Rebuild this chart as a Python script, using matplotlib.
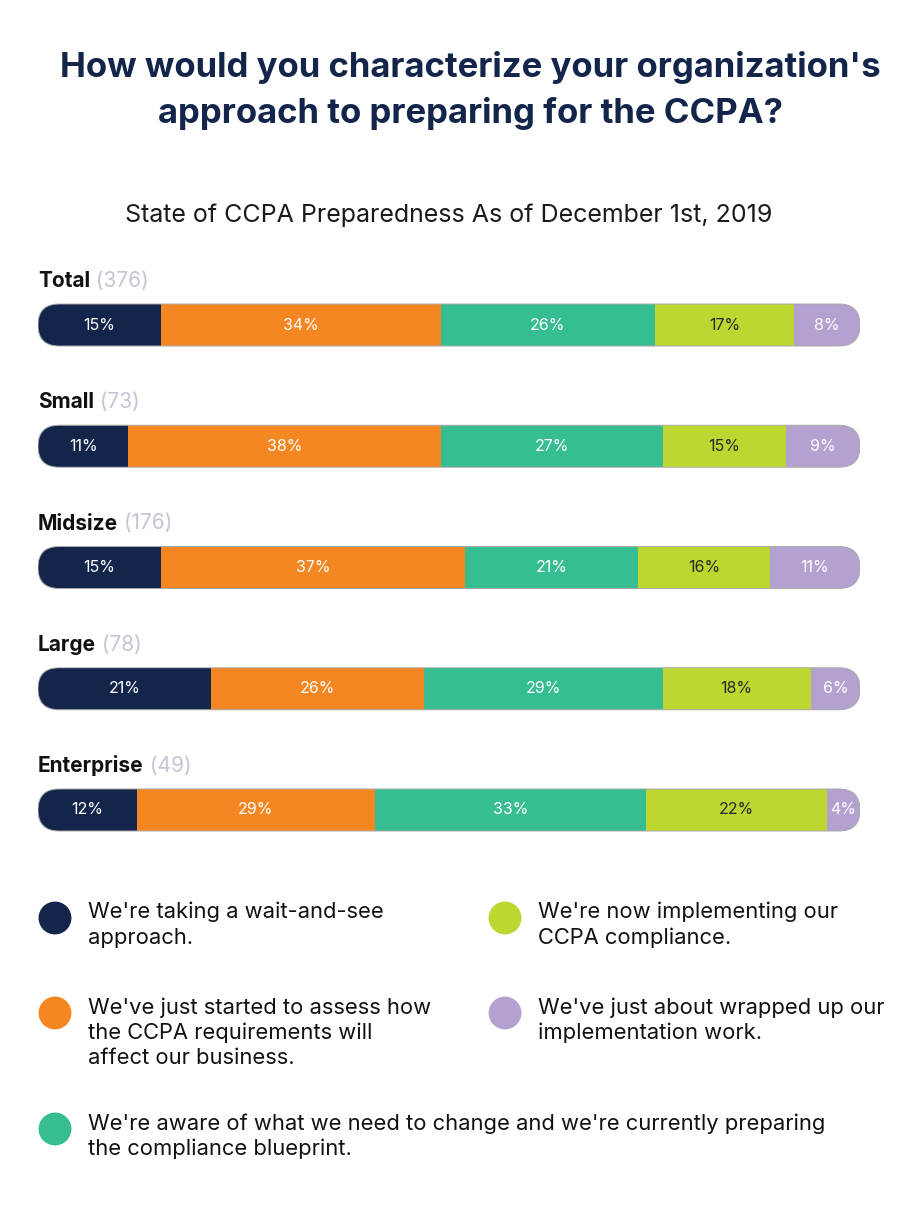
import matplotlib.pyplot as plt
from matplotlib.patches import FancyBboxPatch
import numpy as np

plt.rcParams['font.family'] = ['Inter', 'DejaVu Sans']

# data
groups = ['Total', 'Small', 'Midsize', 'Large', 'Enterprise']
counts = [376, 73, 176, 78, 49]
wait_see = [15, 11, 15, 21, 12]
assessing = [34, 38, 37, 26, 29]
blueprint = [26, 27, 21, 29, 33]
implementing = [17, 15, 16, 18, 22]
wrapped_up = [8, 9, 11, 6, 4]

series = [wait_see, assessing, blueprint, implementing, wrapped_up]
colors = ['#13254B', '#F58723', '#36BD92', '#BDD630', '#B3A2D0']
text_colors = ['white', 'white', 'white', '#2a2a2a', 'white']
legend_labels = [
    "We're taking a wait-and-see\napproach.",
    "We've just started to assess how\nthe CCPA requirements will\naffect our business.",
    "We're aware of what we need to change and we're currently preparing\nthe compliance blueprint.",
    "We're now implementing our\nCCPA compliance.",
    "We've just about wrapped up our\nimplementation work.",
]

W, H = 923, 1220
fig = plt.figure(figsize=(W / 100, H / 100), dpi=100)
fig.patch.set_facecolor('white')

navy = '#13254B'
fig.text(470 / W, 1 - 90 / H,
         "How would you characterize your organization's\napproach to preparing for the CCPA?",
         ha='center', va='center', fontsize=25, fontweight='bold', color=navy,
         linespacing=1.5)
fig.text(449 / W, 1 - 215 / H, 'State of CCPA Preparedness As of December 1st, 2019',
         ha='center', va='center', fontsize=18, color='#1a1a1a')

# bar axes
left, right, top, bottom = 38, 860, 255, 850
ax = fig.add_axes([left / W, 1 - bottom / H, (right - left) / W, (bottom - top) / H])
row_px = 121.25
first_px = 325
y_top = -(first_px - top) / row_px
y_bot = (bottom - first_px) / row_px
ax.set_xlim(0, 100)
ax.set_ylim(y_bot, y_top)
ax.axis('off')

xu = 100 / (right - left)
yu = (y_bot - y_top) / (bottom - top)
bar_h = 42 * yu
y = np.arange(len(groups))

for i in range(len(groups)):
    frame = FancyBboxPatch((0, y[i] - bar_h / 2), 100, bar_h,
                           boxstyle=f'round,pad=0,rounding_size={21 * xu}',
                           mutation_aspect=yu / xu,
                           facecolor='none', edgecolor='#a8a8a8', linewidth=0.7, zorder=3)
    ax.add_patch(frame)
    start = 0
    for s, c, tc in zip(series, colors, text_colors):
        v = s[i]
        bars = ax.barh(y[i], v, left=start, height=bar_h, color=c, edgecolor='none', zorder=2)
        for b in bars:
            b.set_clip_path(frame)
        ax.text(start + v / 2, y[i], f'{v}%', ha='center', va='center',
                fontsize=11.5, color=tc, zorder=4)
        start += v
    t = ax.text(0, y[i] - 44 * yu, groups[i], ha='left', va='center',
                fontsize=15, fontweight='bold', color='#111111')
    ax.annotate(f' ({counts[i]})', xy=(1, 0.5), xycoords=t, ha='left', va='center',
                fontsize=15, color='#c3c6d4')

# legend
lax = fig.add_axes([0, 0, 1, 1])
lax.set_xlim(0, W)
lax.set_ylim(H, 0)
lax.axis('off')
legend_pos = [(55, 918), (55, 1013), (55, 1129), (505, 918), (505, 1013)]
for (cx, cy), lab, c in zip(legend_pos, legend_labels, colors):
    lax.scatter(cx, cy, s=560, color=c, edgecolor='none')
    lax.text(cx + 33, cy - 16, lab, ha='left', va='top', fontsize=15.8,
             color='#111111', linespacing=1.32)

fig.savefig('out.png', dpi=100)
